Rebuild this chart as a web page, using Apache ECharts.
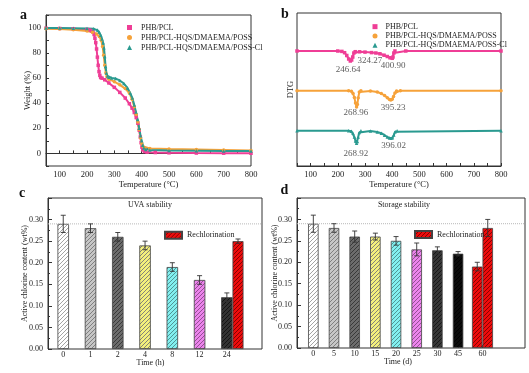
<!DOCTYPE html>
<html><head><meta charset="utf-8">
<script src="https://cdn.jsdelivr.net/npm/echarts@6/dist/echarts.min.js"></script>
<style>html,body{margin:0;padding:0;background:#fff}#c{width:529px;height:373px}</style>
</head><body><div id="c"></div>
<script>
// ---- Panel a: TGA (temperature, weight %) ----
const tgaPHB = [[50,99.5],[100,99.3],[150,99],[200,98.5],[210,98],[218,97.2],[222,96.5],[226,94.5],[229,91.5],[232,88],[235,83],[238,76.5],[241,70],[244,65],[247,62],[250,60.3],[255,59.8],[265,58.5],[280,56],[300,52.5],[320,48.5],[340,44],[355,39.5],[365,36],[373,32.5],[380,28.5],[386,24],[391,18.5],[395,13],[398,8.5],[401,5],[404,2.8],[410,1.5],[420,1],[450,0.7],[500,0.5],[600,0.3],[700,0.2],[800,0.1]];
const tgaPOSS = [[50,99],[100,98.8],[150,98.3],[200,97.2],[220,96.3],[235,95],[245,93],[252,90],[257,85],[261,78],[265,70],[269,64],[273,61],[280,59],[300,57],[320,54.5],[340,51.5],[355,48],[365,43],[373,37],[380,31],[386,25],[391,19],[396,12.5],[400,8],[405,5.5],[412,4.3],[430,3.9],[500,3.6],[600,3.2],[700,2.8],[800,2.4]];
const tgaPOSSCl = [[50,99.6],[100,99.6],[150,99.5],[200,99.3],[225,99],[238,98],[245,96.5],[250,94],[255,91],[259,88],[262,84],[265,77],[268,69],[271,64],[275,61.5],[280,60.5],[290,60],[305,59.5],[320,58],[335,55.5],[348,52],[358,48],[366,44],[373,38.5],[379,33],[385,27],[391,20],[396,14],[400,10],[404,6.5],[408,4.3],[415,3.2],[430,2.7],[500,2.4],[600,2.2],[700,2],[800,1.9]];
// ---- Panel b: DTG (temperature, arbitrary offset units) ----
const dtgPHB = [[50,115],[200,115],[215,114.6],[225,113.3],[233,110.5],[240,107],[246,105],[251,106],[255,109],[259,113],[264,114.3],[280,114.2],[300,113.9],[324,113.4],[340,113],[355,112.2],[370,110.8],[382,109.5],[392,108.2],[400,107.7],[403,109],[406,113],[410,115],[450,115],[800,115]];
const dtgPOSS = [[50,75.3],[240,75.3],[250,74.8],[256,72.5],[261,68.5],[265,63],[269,59],[272,61.5],[275,68],[279,74],[285,75.2],[320,75],[345,74],[360,72.5],[372,70.5],[382,68.3],[390,66.6],[395,66],[400,66.8],[405,69.5],[410,73],[416,75],[430,75.3],[800,75.3]];
const dtgPOSSCl = [[50,35.3],[240,35.3],[250,34.8],[256,32.8],[261,29],[265,25],[269,22.7],[272,24.5],[275,29],[279,33.5],[285,35.2],[320,35],[345,34],[360,32.8],[372,30.8],[382,29],[390,28],[396,27.7],[401,28.3],[406,31],[411,34.3],[418,35.3],[800,35.3]];
const dtgPeakLabels = [[238,96,'246.64'],[318,105.5,'324.27'],[403,100,'400.90'],[266,53,'268.96'],[403,58.7,'395.23'],[266,12.7,'268.92'],[405,20,'396.02']];
const seriesNames = ['PHB/PCL','PHB/PCL-HQS/DMAEMA/POSS','PHB/PCL-HQS/DMAEMA/POSS-Cl'];
// ---- Panel c: UVA stability ----
const cCats = ['0','1','2','4','8','12','24'];
const cVals = [0.29,0.28,0.26,0.24,0.19,0.16,0.12];
const cErr  = [0.02,0.01,0.01,0.01,0.01,0.01,0.01];
const cReVal = [0.25];
const cReErr = [0.005];
// ---- Panel d: Storage stability ----
const dCats = ['0','5','10','15','20','25','30','45'];
const dVals = [0.29,0.28,0.26,0.26,0.25,0.23,0.228,0.22];
const dErr  = [0.02,0.01,0.013,0.008,0.01,0.015,0.008,0.005];
const d60Cat = ['60'];
const d60Val = [0.19];
const d60Err = [0.01];
const dReVal = [0.28];
const dReErr = [0.02];
const refLevel = 0.29;

// ---- styles ----
const F = 'Liberation Serif';
const ink = '#333';
const pink = '#ef3e96', orange = '#f6a23a', teal = '#2a9a90';
const cFill = ['#ffffff','#c6c6c6','#6c6c6c','#f4f07c','#82f0f0','#ec84ec','#333333'];
const cLine = ['#9a9a9a','#777','#333','#777','#4a8a8a','#8a4a8a','#111'];
const dFill = ['#ffffff','#c6c6c6','#6c6c6c','#f4f07c','#82f0f0','#ec84ec','#383838','#0c0c0c'];
const dLine = ['#9a9a9a','#777','#333','#777','#4a8a8a','#8a4a8a','#151515','#000'];
const redFill = '#ee0c0c', redLine = '#7a0000';

function hatch(fill, line) {
  const s = 4;
  const c = document.createElement('canvas'); c.width = s; c.height = s;
  const g = c.getContext('2d');
  g.fillStyle = fill; g.fillRect(0, 0, s, s);
  g.strokeStyle = line; g.lineWidth = 0.9;
  g.beginPath();
  g.moveTo(-1, s + 1); g.lineTo(s + 1, -1);
  g.moveTo(-1, 1); g.lineTo(1, -1);
  g.moveTo(s - 1, s + 1); g.lineTo(s + 1, s - 1);
  g.stroke();
  return { image: c, repeat: 'repeat' };
}
const txt = (size) => ({ fontFamily: F, fontSize: size, color: '#222' });

function tempAxis(gi) {
  return { type: 'value', gridIndex: gi, min: 50, max: 800, interval: 50,
    axisLine: { show: true, lineStyle: { color: ink } },
    axisTick: { inside: true, length: 3, lineStyle: { color: ink } },
    axisLabel: Object.assign(txt(8.5), { margin: 4, formatter: v => (v % 100 === 0 ? String(v) : '') }),
    splitLine: { show: false },
    name: 'Temperature (°C)', nameLocation: 'middle', nameGap: 14, nameMoveOverlap: false, nameTextStyle: txt(8.5) };
}
function frameX(gi, name, shift) {
  return { type: 'value', gridIndex: gi, min: 0, max: 1,
    axisLine: { show: false }, axisTick: { show: false }, axisLabel: { show: false }, splitLine: { show: false },
    name: name, nameLocation: 'middle', nameGap: 10, nameMoveOverlap: false,
    nameTextStyle: Object.assign(txt(8), { padding: [0, shift, 0, 0] }) };
}
function chlorY(gi, gap) {
  return { type: 'value', gridIndex: gi, min: 0, max: 0.35, interval: 0.05,
    axisLine: { show: true, lineStyle: { color: ink } },
    axisTick: { inside: true, length: 4, lineStyle: { color: ink } },
    minorTick: { show: true, splitNumber: 2, length: 2, lineStyle: { color: ink } },
    axisLabel: Object.assign(txt(8), { margin: 5, formatter: v => (v > 0.34 ? '' : v.toFixed(2)) }),
    splitLine: { show: false },
    name: 'Active chlorine content (wt%)', nameLocation: 'middle', nameGap: gap, nameMoveOverlap: false, nameTextStyle: txt(8) };
}
function hiddenY(gi) { return { type: 'value', gridIndex: gi, min: 0, max: 0.35, show: false }; }
function catX(gi, cats) {
  return { type: 'category', gridIndex: gi, data: cats,
    axisLine: { show: false },
    axisTick: { show: true, inside: true, alignWithLabel: true, length: 3, lineStyle: { color: ink } },
    axisLabel: Object.assign(txt(8), { margin: 2 }) };
}
function errRender(params, api) {
  const i = api.value(0), m = api.value(1), e = api.value(2), side = api.value(3) || 0;
  const off = side * api.size([1, 0])[0] / 4;
  const hi = api.coord([i, m + e]), lo = api.coord([i, m - e]);
  const x = hi[0] + off, w = 2.5;
  const st = { stroke: '#333', lineWidth: 0.9 };
  return { type: 'group', children: [
    { type: 'line', shape: { x1: x, y1: hi[1], x2: x, y2: lo[1] }, style: st },
    { type: 'line', shape: { x1: x - w, y1: hi[1], x2: x + w, y2: hi[1] }, style: st },
    { type: 'line', shape: { x1: x - w, y1: lo[1], x2: x + w, y2: lo[1] }, style: st }
  ] };
}
function lineSeries(name, data, color, sym, xi) {
  return { type: 'line', name: name, xAxisIndex: xi, yAxisIndex: xi, data: data,
    symbol: sym, symbolSize: 3.5, showAllSymbol: true,
    lineStyle: { width: 2, color: color }, itemStyle: { color: color } };
}
const frameGrid = { show: true, borderColor: ink, borderWidth: 1, backgroundColor: 'transparent' };

const option = {
  animation: false,
  grid: [
    Object.assign({ left: 46, top: 15, width: 205, height: 151 }, frameGrid),
    Object.assign({ left: 297, top: 13, width: 204, height: 153 }, frameGrid),
    Object.assign({ left: 48, top: 198, width: 214, height: 151 }, frameGrid),
    { left: 49.6, top: 198, width: 190.9, height: 151 },
    { left: 232.5, top: 198, width: 11, height: 151 },
    Object.assign({ left: 297, top: 198, width: 228, height: 150 }, frameGrid),
    { left: 303, top: 198, width: 165.4, height: 150 },
    { left: 472, top: 198, width: 21, height: 150 }
  ],
  xAxis: [
    tempAxis(0), tempAxis(1),
    frameX(2, 'Time (h)', 9),
    catX(3, cCats),
    { type: 'category', gridIndex: 4, data: [''], show: false },
    frameX(5, 'Time (d)', 26),
    catX(6, dCats),
    catX(7, d60Cat)
  ],
  yAxis: [
    { type: 'value', gridIndex: 0, min: -10, max: 110, interval: 10,
      axisLine: { show: true, lineStyle: { color: ink } },
      axisTick: { inside: true, length: 3, lineStyle: { color: ink } },
      axisLabel: Object.assign(txt(8.5), { margin: 5, formatter: v => (v >= 0 && v <= 100 && v % 20 === 0 ? String(v) : '') }),
      splitLine: { show: false },
      name: 'Weight (%)', nameLocation: 'middle', nameGap: 14, nameMoveOverlap: false, nameTextStyle: txt(8.5) },
    { type: 'value', gridIndex: 1, min: 0, max: 153,
      axisLine: { show: false }, axisTick: { show: false }, axisLabel: { show: false }, splitLine: { show: false },
      name: 'DTG', nameLocation: 'middle', nameGap: 2, nameMoveOverlap: false, nameTextStyle: txt(8.5) },
    chlorY(2, 19), hiddenY(3), hiddenY(4),
    chlorY(5, 18.5), hiddenY(6), hiddenY(7)
  ],
  legend: [
    { left: 122, top: 17.5, orient: 'vertical', itemWidth: 5, itemHeight: 5, itemGap: 0, selectedMode: false,
      textStyle: { fontFamily: F, fontSize: 8, color: '#222', lineHeight: 10, padding: [0, 0, 0, 4] },
      data: [{ name: seriesNames[0], icon: 'rect' }, { name: seriesNames[1], icon: 'circle' }, { name: seriesNames[2], icon: 'triangle' }] },
    { left: 367.5, top: 17, orient: 'vertical', itemWidth: 5, itemHeight: 5, itemGap: 0, selectedMode: false,
      textStyle: { fontFamily: F, fontSize: 8, color: '#222', lineHeight: 9.3, padding: [0, 0, 0, 3] },
      data: [{ name: seriesNames[0], icon: 'rect' }, { name: seriesNames[1], icon: 'circle' }, { name: seriesNames[2], icon: 'triangle' }] },
    { left: 159, top: 225.7, itemWidth: 17, itemHeight: 7, selectedMode: false,
      textStyle: txt(8), data: [{ name: 'Rechlorination', icon: 'rect' }] },
    { left: 409, top: 225, itemWidth: 17, itemHeight: 7, selectedMode: false,
      textStyle: txt(8), data: [{ name: 'Rechlorination', icon: 'rect' }] }
  ],
  graphic: [
    { type: 'text', x: 20, y: 8, style: { text: 'a', font: 'bold 14px "Liberation Serif"', fill: '#111' } },
    { type: 'text', x: 281, y: 7, style: { text: 'b', font: 'bold 14px "Liberation Serif"', fill: '#111' } },
    { type: 'text', x: 19, y: 186, style: { text: 'c', font: 'bold 14px "Liberation Serif"', fill: '#111' } },
    { type: 'text', x: 280.5, y: 183, style: { text: 'd', font: 'bold 14px "Liberation Serif"', fill: '#111' } },
    { type: 'text', x: 150, y: 205, style: { text: 'UVA stability', font: '8px "Liberation Serif"', fill: '#222', align: 'center', verticalAlign: 'middle' } },
    { type: 'text', x: 404, y: 205, style: { text: 'Storage stability', font: '8px "Liberation Serif"', fill: '#222', align: 'center', verticalAlign: 'middle' } }
  ],
  series: [
    lineSeries(seriesNames[0], tgaPHB, pink, 'rect', 0),
    lineSeries(seriesNames[1], tgaPOSS, orange, 'circle', 0),
    lineSeries(seriesNames[2], tgaPOSSCl, teal, 'triangle', 0),
    lineSeries(seriesNames[0], dtgPHB, pink, 'rect', 1),
    lineSeries(seriesNames[1], dtgPOSS, orange, 'circle', 1),
    lineSeries(seriesNames[2], dtgPOSSCl, teal, 'triangle', 1),
    { type: 'scatter', xAxisIndex: 1, yAxisIndex: 1, data: dtgPeakLabels, symbolSize: 0, silent: true,
      label: { show: true, position: 'inside', formatter: p => p.value[2], fontFamily: F, fontSize: 9, color: '#333' } },
    // panel c
    { type: 'line', xAxisIndex: 2, yAxisIndex: 2, data: [[0, refLevel], [1, refLevel]], symbol: 'none', silent: true,
      lineStyle: { type: 'dotted', color: '#b8b8b8', width: 1 } },
    { type: 'bar', xAxisIndex: 3, yAxisIndex: 3, barWidth: 11.5,
      data: cVals.map((v, i) => ({ value: v, itemStyle: { color: hatch(cFill[i], cLine[i]) } })),
      itemStyle: { borderColor: '#444', borderWidth: 0.8 } },
    { type: 'custom', xAxisIndex: 3, yAxisIndex: 3, renderItem: errRender, z: 5,
      data: cVals.map((v, i) => [i, v, cErr[i], 0]) },
    { type: 'bar', name: 'Rechlorination', xAxisIndex: 4, yAxisIndex: 4, barWidth: '100%', data: cReVal,
      itemStyle: { color: hatch(redFill, redLine), borderColor: '#444', borderWidth: 0.8 } },
    { type: 'custom', xAxisIndex: 4, yAxisIndex: 4, renderItem: errRender, z: 5,
      data: cReVal.map((v, i) => [i, v, cReErr[i], 0]) },
    // panel d
    { type: 'line', xAxisIndex: 5, yAxisIndex: 5, data: [[0, refLevel], [1, refLevel]], symbol: 'none', silent: true,
      lineStyle: { type: 'dotted', color: '#b8b8b8', width: 1 } },
    { type: 'bar', xAxisIndex: 6, yAxisIndex: 6, barWidth: 10.5,
      data: dVals.map((v, i) => ({ value: v, itemStyle: { color: hatch(dFill[i], dLine[i]) } })),
      itemStyle: { borderColor: '#444', borderWidth: 0.8 } },
    { type: 'custom', xAxisIndex: 6, yAxisIndex: 6, renderItem: errRender, z: 5,
      data: dVals.map((v, i) => [i, v, dErr[i], 0]) },
    { type: 'bar', xAxisIndex: 7, yAxisIndex: 7, barWidth: 10.5, barGap: '0%', data: d60Val,
      itemStyle: { color: hatch(redFill, redLine), borderColor: '#444', borderWidth: 0.8 } },
    { type: 'bar', name: 'Rechlorination', xAxisIndex: 7, yAxisIndex: 7, barWidth: 10.5, barGap: '0%', data: dReVal,
      itemStyle: { color: hatch(redFill, redLine), borderColor: '#444', borderWidth: 0.8 } },
    { type: 'custom', xAxisIndex: 7, yAxisIndex: 7, renderItem: errRender, z: 5,
      data: [[0, d60Val[0], d60Err[0], -1], [0, dReVal[0], dReErr[0], 1]] }
  ]
};
const chart = echarts.init(document.getElementById('c'), null, { renderer: 'canvas', width: 529, height: 373 });
chart.setOption(option);
</script></body></html>
